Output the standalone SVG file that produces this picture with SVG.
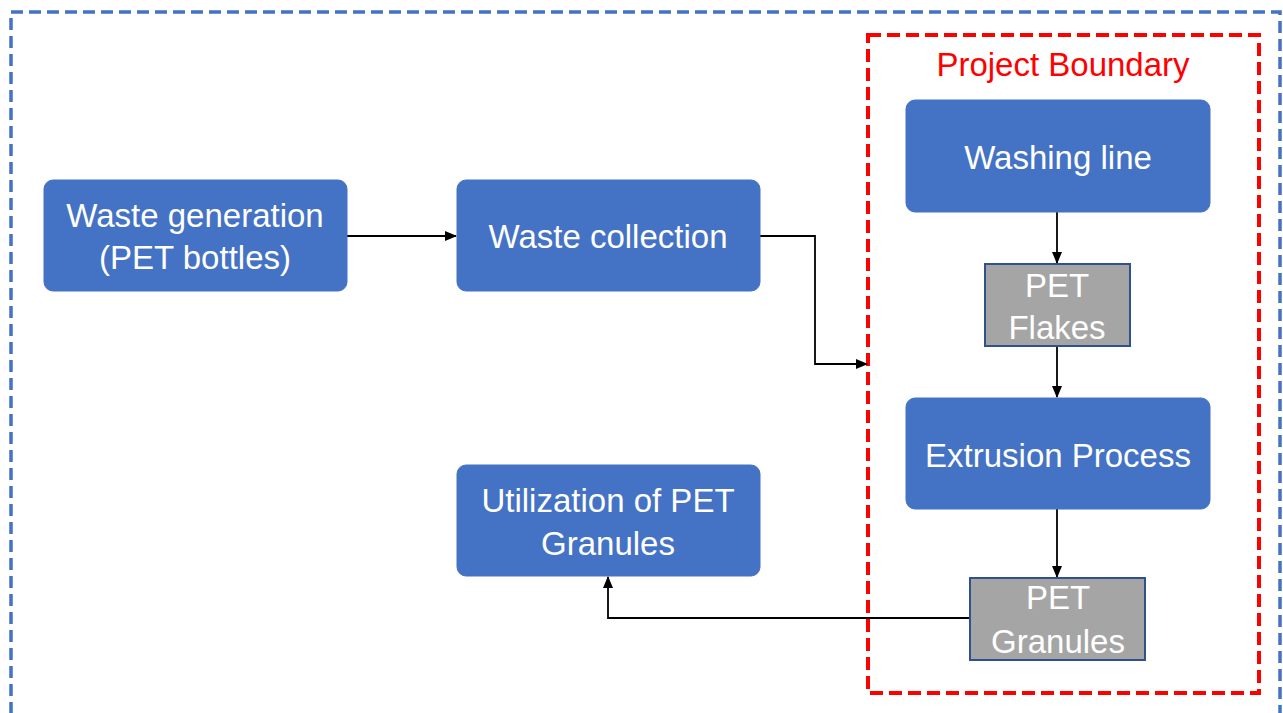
<svg xmlns="http://www.w3.org/2000/svg" width="1283" height="713" viewBox="0 0 1283 713">
<style>
.node{fill:#4472C4;stroke:#4472C4;stroke-width:1}
.gray{fill:#A5A5A5;stroke:#2F528F;stroke-width:2}
.t{font-family:"Liberation Sans",Arial,sans-serif;font-size:33px;fill:#ffffff;text-anchor:middle}
.conn{fill:none;stroke:#000;stroke-width:1.8}
</style>
<defs>
<marker id="arr" markerWidth="12" markerHeight="10" refX="11" refY="5" orient="auto" markerUnits="userSpaceOnUse">
<path d="M0,0 L12,5 L0,10 Z" fill="#000"/>
</marker>
</defs>
<rect width="1283" height="713" fill="#fff"/>
<rect id="outer-boundary" x="11" y="12" width="1269" height="720" fill="none" stroke="#4472C4" stroke-width="3.5" stroke-dasharray="12 6"/>
<g id="project-boundary">
<rect x="868" y="35" width="391" height="658" fill="none" stroke="#FF0000" stroke-width="4" stroke-dasharray="13 6"/>
<text x="1063" y="76" font-family="Liberation Sans, Arial, sans-serif" font-size="33" fill="#FF0000" text-anchor="middle">Project Boundary</text>
</g>
<g id="connectors">
<path class="conn" d="M347,236 H456" marker-end="url(#arr)"/>
<path class="conn" d="M760,236 H815 V364 H867" marker-end="url(#arr)"/>
<path class="conn" d="M1057,212 V263" marker-end="url(#arr)"/>
<path class="conn" d="M1057,346 V397" marker-end="url(#arr)"/>
<path class="conn" d="M1057,509 V577" marker-end="url(#arr)"/>
<path class="conn" d="M970,618 H608 V577" marker-end="url(#arr)"/>
</g>
<g id="waste-generation">
<rect class="node" x="44" y="180" width="303" height="111" rx="9"/>
<text class="t" x="195" y="227">Waste generation</text>
<text class="t" x="195" y="269">(PET bottles)</text>
</g>
<g id="waste-collection">
<rect class="node" x="457" y="180" width="303" height="111" rx="9"/>
<text class="t" x="608" y="248">Waste collection</text>
</g>
<g id="washing-line">
<rect class="node" x="906" y="100" width="304" height="112" rx="9"/>
<text class="t" x="1058" y="169">Washing line</text>
</g>
<g id="pet-flakes">
<rect class="gray" x="985" y="264" width="145" height="82"/>
<text class="t" x="1057" y="297">PET</text>
<text class="t" x="1057" y="339">Flakes</text>
</g>
<g id="extrusion-process">
<rect class="node" x="906" y="398" width="304" height="111" rx="9"/>
<text class="t" x="1058" y="467">Extrusion Process</text>
</g>
<g id="pet-granules">
<rect class="gray" x="970" y="578" width="175" height="82"/>
<text class="t" x="1058" y="609">PET</text>
<text class="t" x="1058" y="653">Granules</text>
</g>
<g id="utilization">
<rect class="node" x="457" y="465" width="303" height="111" rx="9"/>
<text class="t" x="608" y="512">Utilization of PET</text>
<text class="t" x="608" y="555">Granules</text>
</g>
</svg>
